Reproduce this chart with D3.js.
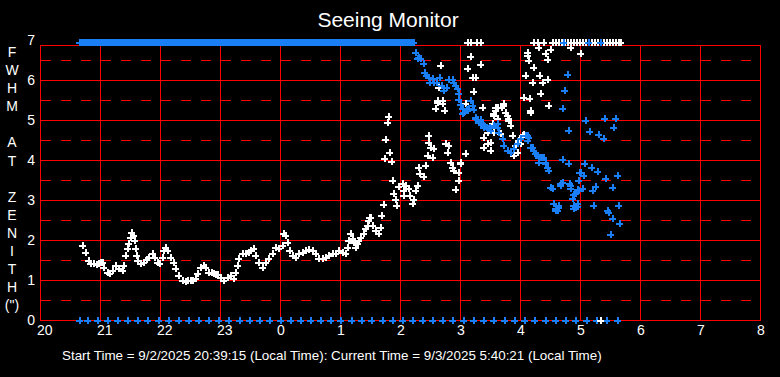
<!DOCTYPE html>
<html><head><meta charset="utf-8">
<script src="https://cdn.jsdelivr.net/npm/d3@7"></script>
<style>body{margin:0;background:#000;overflow:hidden}svg{display:block}</style>
</head><body><svg id="c" width="780" height="377"></svg>
<script>
// ---------- data (time = minutes after 20:00 local) ----------
const hourLabels = [20,21,22,23,0,1,2,3,4,5,6,7,8];
const yTickValues = [0,1,2,3,4,5,6,7];
const yAxisLetters = ["F","W","H","M","","A","T","","Z","E","N","I","T","H","(\")"];
const titleText = "Seeing Monitor";
const footerText = "Start Time = 9/2/2025 20:39:15 (Local Time): Current Time = 9/3/2025 5:40:21 (Local Time)";
const offScaleValue = 6.94;   // readings plotted at the top edge

const whiteTimes = [42,45,48,50,53,56,58,60,62,63,67,69,72,75,78,82,83,85,87,88,90,91,93,94,95,96,97,100,103,106,108,112,114,117,119,122,123,125,127,130,133,135,138,142,145,147,150,152,155,157,160,163,165,168,171,173,175,177,180,183,187,190,193,195,197,198,202,205,208,210,213,215,218,222,225,228,232,235,238,242,243,245,247,249,252,255,258,262,265,268,272,275,278,282,285,288,292,295,298,302,305,307,308,310,312,313,315,317,318,320,323,325,327,328,329,330,332,335,338,340,341,343,344,345,347,348,349,351,352,353,355,356,358,362,363,363,365,368,369,372,373,375,377,378,379,383,385,387,388,388,390,392,393,395,397,397,398,400,402,402,404,405,407,408,410,412,413,415,418,418,420,420,425,425,427,430,432,433,435,440,442,443,443,447,447,450,450,452,453,453,453,455,455,457,457,457,460,461,462,463,463,465,467,468,468,470,472,473,475,477,478,480,482,483,483,485,487,487,488,489,490,490,492,493,498,499,500,502,505,507,507,508,510,530,540];
const whiteValues = [1.88,1.71,1.50,1.42,1.42,1.40,1.42,1.44,1.46,1.33,1.21,1.17,1.25,1.38,1.29,1.25,1.38,1.63,1.79,1.92,2.08,2.21,2.13,2.00,1.80,1.63,1.50,1.43,1.46,1.52,1.58,1.67,1.58,1.46,1.42,1.58,1.75,1.83,1.75,1.58,1.46,1.29,1.13,1.00,0.98,1.00,1.00,1.00,1.04,1.17,1.33,1.38,1.33,1.21,1.20,1.18,1.16,1.15,1.08,1.00,1.08,1.13,1.04,1.21,1.38,1.54,1.67,1.67,1.71,1.75,1.79,1.63,1.46,1.33,1.46,1.54,1.67,1.83,1.79,1.88,2.17,2.13,1.96,1.75,1.63,1.58,1.67,1.71,1.75,1.77,1.75,1.67,1.54,1.54,1.58,1.63,1.67,1.68,1.75,1.71,1.67,1.83,2.00,2.17,2.04,1.96,1.83,1.92,2.00,2.08,2.17,2.29,2.38,2.50,2.58,2.57,2.38,2.25,2.17,2.33,2.63,2.90,4.04,4.52,4.96,5.10,4.21,3.97,3.50,3.18,3.02,2.88,3.35,3.42,3.25,3.13,3.38,3.29,3.13,2.93,3.02,3.25,3.38,3.83,3.68,3.60,3.88,4.13,4.63,4.46,4.33,4.07,4.29,5.29,5.46,5.50,5.82,6.38,5.42,5.50,5.25,4.42,4.21,4.38,3.96,3.83,3.75,3.27,3.71,3.50,3.92,3.96,4.17,5.42,6.29,6.60,6.08,5.73,6.07,6.39,5.32,4.58,4.33,4.71,4.42,4.46,4.25,4.92,5.13,4.71,5.17,5.25,5.33,5.32,4.92,5.04,4.67,5.33,4.54,5.38,5.42,5.21,5.13,5.04,5.00,4.88,4.63,4.13,4.38,4.21,4.50,4.42,4.63,5.58,4.65,6.13,6.71,6.63,6.50,5.54,5.21,5.25,5.94,6.32,6.82,6.13,5.67,5.96,6.68,6.52,6.02,5.38,6.77,6.82,6.68];
const whiteHighTimes = [427,430,436,440,493,497,503,512,515,518,521,524,527,530,533,536,539,542,545,548,551,554,557,560,563,566,569,572,575,578,580];
const whiteZeroTimes = [560];

const blueTimes = [375,377,378,380,383,384,386,388,389,392,393,396,399,401,403,406,408,412,413,415,417,418,418,420,422,422,423,426,427,428,430,432,433,435,435,437,438,440,442,443,443,446,447,449,450,453,457,457,458,462,463,467,470,473,477,480,485,487,487,488,490,492,493,495,497,498,498,500,502,503,505,505,507,508,510,512,513,515,515,517,518,518,520,520,522,522,522,524,527,528,528,529,530,530,532,533,533,533,535,535,537,537,537,538,538,539,540,542,543,544,545,549,551,552,553,555,557,558,563,564,565,567,568,570,572,572,573,575,577,578,579];
const blueValues = [6.71,6.55,6.58,6.55,6.42,6.21,6.13,6.08,5.96,6.04,5.96,5.96,6.08,5.88,5.75,5.83,6.02,6.02,5.96,5.88,5.79,5.68,5.52,5.40,5.29,5.17,5.20,5.27,5.25,5.29,5.50,5.38,5.27,5.07,5.04,5.02,4.96,5.02,4.92,4.88,4.83,4.83,4.79,4.83,4.75,4.88,4.92,4.83,4.71,4.54,4.38,4.25,4.21,4.29,4.42,4.54,4.63,4.50,4.63,4.58,4.33,4.33,4.25,4.17,4.13,4.08,3.96,4.08,4.08,4.08,3.92,3.96,3.83,3.75,3.33,3.29,2.92,2.79,2.75,2.75,2.88,2.83,3.38,3.42,3.46,4.02,5.29,5.75,6.15,3.92,4.75,3.43,3.38,3.30,3.04,3.15,2.88,2.79,2.83,3.17,2.85,3.27,2.92,3.50,3.25,3.71,3.71,3.29,3.63,3.93,5.00,4.72,3.82,3.25,2.88,3.35,3.73,4.64,4.54,5.04,3.54,2.75,2.71,2.15,3.32,2.54,4.83,5.04,3.63,2.88,2.42];
const blueHighTimes = [39,41,43,45,47,49,51,53,55,57,59,61,63,65,67,69,71,73,75,77,79,81,83,85,87,89,91,93,95,97,99,101,103,105,107,109,111,113,115,117,119,121,123,125,127,129,131,133,135,137,139,141,143,145,147,149,151,153,155,157,159,161,163,165,167,169,171,173,175,177,179,181,183,185,187,189,191,193,195,197,199,201,203,205,207,209,211,213,215,217,219,221,223,225,227,229,231,233,235,237,239,241,243,245,247,249,251,253,255,257,259,261,263,265,267,269,271,273,275,277,279,281,283,285,287,289,291,293,295,297,299,301,303,305,307,309,311,313,315,317,319,321,323,325,327,329,331,333,335,337,339,341,343,345,347,349,351,353,355,357,359,361,363,365,367,369,371,373,523,548,560];
const blueZeroTimes = [39,47,57,67,77,87,97,107,118,128,138,148,158,168,178,188,199,209,219,229,240,250,260,270,280,290,300,311,321,331,342,352,362,372,382,392,402,412,423,433,443,453,464,474,484,494,505,515,525,535,546,556,566,577];

// ---------- drawing ----------
const FONT = "'Liberation Sans', Arial, sans-serif";
const RED = "#ff0000", BLUE = "#1a7ef5", WHITE = "#ffffff";
const svg = d3.select("#c");
svg.append("rect").attr("width",780).attr("height",377).attr("fill","#000");

const x = d3.scaleLinear().domain([0, 720]).range([40, 760]);
const y = d3.scaleLinear().domain([0, 7]).range([320, 40]);
const frameTop = y(6.875);

const grid = svg.append("g").attr("shape-rendering","crispEdges");
grid.selectAll("line.dash").data(d3.range(0.5, 7, 1)).join("line")
  .attr("x1", x(0)+1).attr("x2", x(720)).attr("y1", d=>Math.round(y(d))+0.5).attr("y2", d=>Math.round(y(d))+0.5)
  .attr("stroke", RED).attr("stroke-width",1).attr("stroke-dasharray","10,10");
grid.selectAll("line.h").data([1,2,3,4,5,6]).join("line")
  .attr("x1", x(0)).attr("x2", x(720)).attr("y1", d=>Math.round(y(d))+0.5).attr("y2", d=>Math.round(y(d))+0.5)
  .attr("stroke", RED).attr("stroke-width",1);
const hourPos = hourLabels.map((h,i)=>i*60);
grid.selectAll("line.v").data(hourPos).join("line")
  .attr("x1", d=>Math.round(x(d))+0.5).attr("x2", d=>Math.round(x(d))+0.5)
  .attr("y1", frameTop).attr("y2", y(0))
  .attr("stroke", RED).attr("stroke-width",1);
grid.append("rect").attr("x", x(0)+0.5).attr("y", Math.round(frameTop)+0.5)
  .attr("width", x(720)-x(0)).attr("height", y(0)-Math.round(frameTop))
  .attr("fill","none").attr("stroke",RED).attr("stroke-width",1);

// crosses: 7x7 px, 2 px thick
const crossPath = "M-3,0.5H4M0.5,-3V4";
function crosses(times, values, color, cls){
  const pts = times.map((t,i)=>[t, typeof values==="number" ? values : values[i]]);
  svg.append("g").attr("class",cls).attr("shape-rendering","crispEdges")
    .selectAll("path").data(pts).join("path")
    .attr("d", crossPath)
    .attr("transform", d=>`translate(${Math.round(x(d[0]))},${Math.round(y(d[1]))})`)
    .attr("stroke", color).attr("stroke-width",2).attr("fill","none");
}
crosses(whiteTimes, whiteValues, WHITE, "white");
crosses(whiteHighTimes, offScaleValue, WHITE, "whiteHigh");
crosses(blueTimes, blueValues, BLUE, "blue");
crosses(blueHighTimes, offScaleValue, BLUE, "blueHigh");
crosses(blueZeroTimes, 0, BLUE, "blueZero");
crosses(whiteZeroTimes, 0, WHITE, "whiteZero");

// axes
const xAxis = d3.axisBottom(x).tickValues(hourPos).tickSize(0).tickPadding(0)
  .tickFormat((d,i)=>hourLabels[i]);
const gx = svg.append("g").attr("transform",`translate(0,${y(0)})`).call(xAxis);
gx.select(".domain").remove();
gx.selectAll("text").attr("fill",WHITE).attr("font-family",FONT).attr("font-size",14)
  .attr("text-anchor","start").attr("dx",-3.5).attr("dy",0).attr("y",15);

const yAxis = d3.axisLeft(y).tickValues(yTickValues).tickSize(0).tickPadding(0).tickFormat(d3.format("d"));
const gy = svg.append("g").attr("transform",`translate(35,0)`).call(yAxis);
gy.select(".domain").remove();
gy.selectAll("text").attr("fill",WHITE).attr("font-family",FONT).attr("font-size",14)
  .attr("text-anchor","end").attr("x",0).attr("dy","0.35em");

svg.append("g").selectAll("text").data(yAxisLetters).join("text")
  .attr("x",12).attr("y",(d,i)=>52+i*18.1).attr("dy","0.35em")
  .attr("text-anchor","middle").attr("fill",WHITE)
  .attr("font-family",FONT).attr("font-size",14).text(d=>d);

svg.append("text").attr("x",388).attr("y",27).attr("text-anchor","middle")
  .attr("fill",WHITE).attr("font-family",FONT).attr("font-size",21).text(titleText);

svg.append("text").attr("x",62).attr("y",360)
  .attr("fill",WHITE).attr("font-family",FONT).attr("font-size",13.4).text(footerText);
</script>
</body></html>
